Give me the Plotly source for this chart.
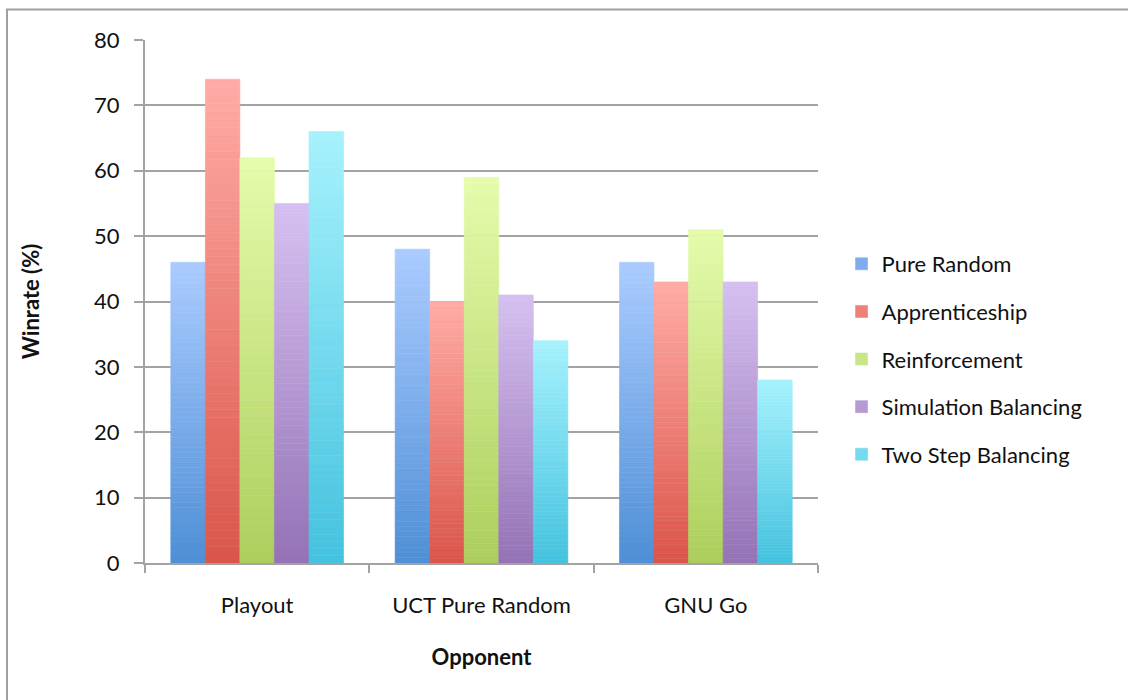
import plotly.graph_objects as go

categories = ["Playout", "UCT Pure Random", "GNU Go"]
series_names = ["Pure Random", "Apprenticeship", "Reinforcement", "Simulation Balancing", "Two Step Balancing"]
pure_random = [46, 48, 46]
apprenticeship = [74, 40, 43]
reinforcement = [62, 59, 51]
simulation_balancing = [55, 41, 43]
two_step_balancing = [66, 34, 28]
y_ticks = [0, 10, 20, 30, 40, 50, 60, 70, 80]

series_values = [pure_random, apprenticeship, reinforcement, simulation_balancing, two_step_balancing]
# (bottom colour, top colour) for the vertical gradient of each series
gradients = [
    ((79, 143, 214), (170, 203, 255)),
    ((218, 85, 73), (255, 172, 166)),
    ((173, 206, 92), (228, 252, 172)),
    ((148, 114, 182), (214, 192, 240)),
    ((68, 194, 223), (166, 242, 253)),
]

N_SEG = 60

def mix(c0, c1, t):
    return "rgb(%d,%d,%d)" % tuple(round(a + (b - a) * t) for a, b in zip(c0, c1))

fig = go.Figure()
for s, (name, vals, (c_bot, c_top)) in enumerate(zip(series_names, series_values, gradients)):
    for i in range(N_SEG):
        t = (i + 0.5) / N_SEG
        col = mix(c_bot, c_top, t)
        fig.add_trace(go.Bar(
            x=categories,
            y=[v / N_SEG for v in vals],
            base=[v * i / N_SEG for v in vals],
            offsetgroup=str(s),
            legendgroup=name,
            name=name,
            showlegend=(i == N_SEG // 2),
            marker=dict(color=col, line=dict(width=0.6, color=col)),
            hoverinfo="skip",
        ))

grid_col = "#a3a3a3"
fig.update_layout(
    width=1128, height=700,
    barmode="group", bargap=0.23, bargroupgap=0,
    plot_bgcolor="white", paper_bgcolor="white",
    margin=dict(l=145, r=310, t=40, b=137),
    font=dict(family="Lato, sans-serif", size=22, color="#111111"),
    legend=dict(x=1.035, y=0.39, xanchor="left", yanchor="middle",
                font=dict(size=22), tracegroupgap=16, traceorder="grouped",
                itemwidth=30, bgcolor="rgba(0,0,0,0)"),
    shapes=[dict(type="rect", xref="paper", yref="paper",
                 x0=(7 - 145) / 673, x1=(1140 - 145) / 673,
                 y0=(563 - 710) / 523, y1=(563 - 9.5) / 523,
                 line=dict(color="#a0a0a0", width=2), layer="below")],
)
fig.update_xaxes(
    showline=True, linecolor=grid_col, linewidth=2,
    ticks="outside", tickson="boundaries", ticklen=8, tickcolor=grid_col, tickwidth=2,
    ticklabelstandoff=22,
    title=dict(text="<b>Opponent</b>", standoff=32, font=dict(size=22)),
    showgrid=False,
)
fig.update_yaxes(
    range=[0, 80], tickvals=y_ticks,
    showline=True, linecolor=grid_col, linewidth=2,
    ticks="outside", ticklen=9, tickcolor=grid_col, tickwidth=2,
    ticklabelstandoff=10,
    showgrid=True, gridcolor=grid_col, gridwidth=2,
    zeroline=False,
    title=dict(text="<b>Winrate (%)</b>", standoff=48, font=dict(size=22)),
)
fig.write_html("out.html")
